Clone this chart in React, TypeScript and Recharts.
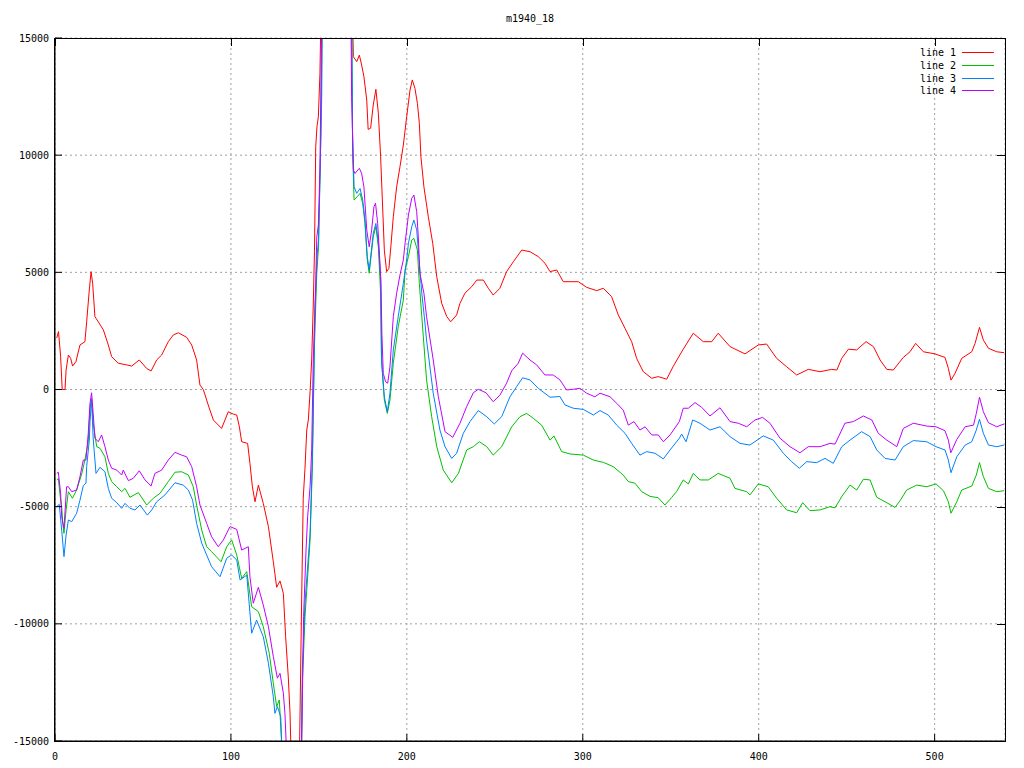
import React from 'react';
import { LineChart, Line, XAxis, YAxis, CartesianGrid, Legend } from 'recharts';

const TITLE = 'm1940_18';
const X_TICKS = [0, 100, 200, 300, 400, 500];
const Y_TICKS = [-15000, -10000, -5000, 0, 5000, 10000, 15000];
const SERIES_NAMES = ['line 1', 'line 2', 'line 3', 'line 4'];
const SERIES_COLORS = ['#ff0000', '#00c000', '#0080ff', '#c000ff'];

const line1X = [1.0, 2.0, 3.2, 4.1, 5.7, 6.3, 7.6, 8.9, 10.0, 11.9, 14.2, 17.0, 18.0, 19.5, 20.5, 21.4, 22.7, 24.6, 27.5, 30.3, 32.2, 36.0, 40.7, 43.6, 47.9, 52.1, 54.6, 57.8, 60.6, 64.4, 67.3, 70.1, 74.8, 77.7, 80.5, 82.4, 84.3, 87.1, 90.0, 94.7, 98.5, 101.4, 103.3, 104.8, 106.1, 109.5, 110.8, 112.2, 113.7, 115.6, 118.4, 121.3, 124.1, 126.0, 127.9, 129.8, 131.1, 132.6, 133.6, 135.0, 138.5, 140.2, 141.1, 142.1, 143.1, 144.0, 145.0, 145.9, 146.8, 147.5, 148.2, 148.9, 149.7, 150.6, 152.5, 167.5, 169.6, 171.5, 173.0, 174.3, 175.6, 177.2, 178.0, 179.4, 180.9, 182.4, 183.8, 185.1, 186.3, 187.2, 188.5, 189.8, 190.9, 192.3, 194.2, 196.1, 198.0, 199.9, 201.8, 203.1, 204.6, 206.0, 207.1, 208.0, 209.7, 212.2, 214.7, 217.0, 219.8, 222.7, 224.9, 228.3, 230.2, 233.0, 236.9, 239.7, 243.5, 246.3, 249.1, 252.9, 256.7, 260.5, 265.3, 270.0, 274.7, 278.5, 281.4, 285.2, 288.9, 292.7, 297.5, 302.2, 307.9, 311.7, 316.4, 320.2, 324.0, 327.8, 330.6, 334.4, 339.2, 342.9, 347.7, 351.5, 357.1, 362.8, 368.5, 373.3, 377.0, 383.7, 392.2, 399.8, 404.5, 410.2, 415.9, 421.6, 428.2, 434.9, 441.5, 444.4, 447.2, 451.0, 455.7, 461.0, 465.2, 469.0, 472.8, 476.5, 482.2, 486.0, 489.2, 493.6, 500.2, 505.9, 507.8, 509.3, 511.6, 515.4, 521.1, 523.0, 525.5, 527.7, 530.6, 535.3, 539.5];
const line1Y = [2200, 2470, 1400, 0, 0, 830, 1470, 1330, 1000, 1190, 1900, 2040, 2890, 4250, 5030, 4530, 3110, 2890, 2540, 1900, 1400, 1120, 1050, 1000, 1260, 900, 790, 1260, 1470, 2040, 2330, 2420, 2230, 1900, 1260, 190, 0, -660, -1300, -1660, -950, -1050, -1090, -1590, -2230, -2300, -3150, -4150, -4790, -4080, -4860, -5850, -7350, -8440, -8170, -8700, -10550, -12260, -13820, -18000, -18000, -8980, -4640, -3360, -1730, -1300, -90, 1260, 3600, 5900, 10360, 11210, 11640, 13490, 22000, 22000, 14200, 13990, 14270, 13850, 13350, 12350, 11100, 11150, 12140, 12810, 11790, 9930, 7660, 5950, 5030, 5170, 6090, 7370, 8650, 9510, 10430, 11640, 12780, 13210, 12850, 12210, 11360, 9930, 8650, 7370, 6240, 4810, 3680, 3110, 2890, 3180, 3680, 4110, 4390, 4670, 4670, 4320, 4030, 4320, 5030, 5450, 5950, 5880, 5670, 5390, 5030, 5100, 4600, 4600, 4600, 4360, 4220, 4320, 3960, 3180, 2610, 2040, 1330, 760, 480, 550, 440, 1000, 1720, 2400, 2040, 2040, 2400, 1830, 1520, 1900, 1940, 1330, 970, 620, 860, 760, 860, 830, 1330, 1720, 1690, 2040, 1830, 1260, 860, 830, 1370, 1610, 1970, 1610, 1520, 1370, 900, 400, 690, 1330, 1610, 1970, 2650, 2110, 1760, 1610, 1570];

const line2X = [1.0, 1.9, 3.2, 3.8, 4.4, 5.1, 6.3, 7.6, 9.9, 12.3, 15.2, 17.0, 18.9, 19.9, 20.8, 21.7, 23.7, 25.6, 28.4, 30.3, 32.2, 35.1, 37.9, 39.8, 42.6, 47.4, 52.1, 55.9, 59.7, 64.4, 68.2, 72.0, 75.8, 78.6, 80.5, 83.4, 86.2, 89.0, 94.4, 97.6, 100.4, 103.3, 106.1, 109.0, 111.8, 115.6, 118.4, 121.8, 124.1, 126.0, 127.5, 130.2, 139.9, 140.6, 142.1, 145.0, 146.3, 147.4, 148.8, 149.8, 151.2, 152.3, 168.3, 169.2, 170.0, 171.8, 173.4, 174.9, 176.2, 177.5, 178.6, 180.9, 182.4, 183.8, 185.1, 185.6, 187.2, 188.9, 190.4, 192.3, 195.1, 198.0, 199.0, 200.9, 202.8, 204.0, 206.0, 207.1, 208.5, 209.5, 211.2, 214.1, 217.0, 220.7, 225.5, 229.3, 234.0, 237.8, 241.2, 245.4, 249.1, 253.9, 259.6, 264.3, 268.1, 271.9, 276.6, 281.4, 283.6, 288.0, 292.7, 300.3, 306.0, 311.7, 317.3, 323.0, 325.9, 329.7, 333.5, 338.2, 342.9, 346.7, 350.5, 353.3, 357.1, 360.0, 362.8, 366.6, 371.4, 377.0, 383.7, 386.5, 393.2, 395.0, 399.8, 405.4, 410.2, 415.9, 421.6, 425.0, 429.1, 434.9, 440.5, 443.4, 447.2, 451.9, 455.7, 459.5, 463.3, 467.1, 471.8, 477.5, 480.4, 484.1, 489.8, 495.5, 500.8, 505.0, 507.8, 509.3, 512.6, 515.4, 521.1, 523.7, 525.5, 527.7, 530.6, 535.3, 539.5];
const line2Y = [-3860, -3800, -4720, -5000, -5710, -6140, -5140, -4360, -4640, -4290, -3600, -3010, -2230, -800, -380, -1440, -2440, -2510, -2870, -3580, -3930, -4150, -4360, -4220, -4600, -4400, -4930, -4640, -4430, -3930, -3530, -3510, -3650, -4150, -4930, -6000, -6710, -6920, -7350, -6710, -6420, -7060, -8060, -7770, -9270, -9480, -10120, -11260, -12540, -13530, -13250, -17000, -17000, -12540, -9700, -6420, -3290, 1690, 5000, 6090, 11070, 20000, 20000, 10110, 8090, 8230, 8370, 7950, 7090, 5530, 4960, 6520, 6950, 6090, 4110, 1260, -450, -1020, -450, 1120, 2680, 3820, 5100, 5670, 6380, 6450, 5950, 4530, 3110, 2110, 410, -1160, -2440, -3440, -3980, -3580, -2580, -2440, -2230, -2440, -2800, -2440, -1590, -1160, -1020, -1230, -1520, -2160, -1980, -2650, -2750, -2800, -3010, -3110, -3290, -3650, -3930, -4000, -4360, -4560, -4620, -4930, -4610, -4360, -3860, -4030, -3580, -3860, -3860, -3580, -3790, -4220, -4360, -4500, -4030, -4150, -4640, -5140, -5260, -4830, -5170, -5140, -5000, -5050, -4570, -4080, -4290, -3830, -3860, -4600, -4790, -5030, -4740, -4290, -4080, -4150, -4030, -4320, -4790, -5280, -4790, -4290, -4120, -3650, -3120, -3720, -4220, -4360, -4320];

const line3X = [1.0, 2.4, 3.8, 5.1, 6.3, 7.6, 9.5, 12.3, 14.2, 16.1, 17.6, 18.0, 19.5, 19.9, 20.8, 21.7, 23.3, 25.6, 28.4, 30.3, 32.2, 35.1, 37.9, 39.8, 42.6, 45.5, 48.3, 52.5, 55.0, 57.8, 62.5, 68.2, 72.9, 75.8, 78.2, 80.5, 83.4, 86.2, 89.0, 93.8, 97.6, 100.4, 103.3, 105.2, 109.0, 111.8, 114.6, 118.4, 121.3, 124.1, 125.0, 126.4, 128.3, 129.8, 139.8, 140.6, 142.1, 145.0, 146.3, 146.8, 147.8, 149.1, 149.8, 151.6, 152.4, 168.2, 169.1, 170.0, 171.5, 173.4, 174.9, 176.2, 177.5, 178.6, 180.9, 182.4, 183.8, 185.1, 185.6, 187.2, 188.9, 190.4, 192.3, 195.1, 198.0, 199.9, 200.9, 202.8, 204.0, 205.6, 207.1, 208.5, 210.3, 211.2, 215.0, 218.8, 221.7, 225.5, 228.3, 232.1, 235.9, 240.6, 245.4, 249.7, 253.9, 258.6, 262.4, 265.8, 270.0, 274.7, 281.4, 287.0, 289.9, 294.6, 300.3, 306.0, 309.8, 314.5, 319.3, 324.0, 327.8, 332.5, 336.3, 341.0, 345.8, 349.6, 354.9, 356.2, 358.7, 362.5, 366.6, 372.3, 378.0, 383.7, 389.4, 395.0, 402.6, 408.3, 414.0, 418.7, 423.1, 427.3, 433.0, 437.7, 442.4, 447.2, 451.9, 458.5, 463.3, 467.1, 471.8, 477.5, 482.2, 487.9, 495.5, 500.8, 505.9, 507.8, 509.3, 512.6, 517.4, 521.1, 523.7, 525.5, 527.7, 530.6, 535.3, 539.5];
const line3Y = [-5000, -4900, -6000, -7130, -6210, -5570, -5640, -5280, -4720, -4100, -4000, -3290, -2160, -1370, -450, -2080, -3580, -3320, -3510, -4220, -4640, -4830, -5070, -4860, -5070, -5140, -4930, -5360, -5140, -4790, -4500, -3980, -4080, -4290, -4720, -5710, -6560, -7060, -7560, -7990, -7200, -7060, -7280, -8130, -7920, -10400, -9840, -10550, -11680, -13110, -13820, -13530, -13960, -17000, -17000, -11980, -9120, -6140, -2870, -880, 3530, 5810, 6380, 12490, 20000, 20000, 11070, 8650, 8370, 8580, 8090, 7230, 5670, 5100, 6670, 7090, 6240, 4810, 1260, -310, -950, -160, 1690, 3110, 4530, 5530, 6240, 6950, 7230, 6810, 5390, 4110, 2830, 2110, -160, -1730, -2440, -2940, -2720, -1870, -1370, -900, -1160, -1470, -1160, -310, 120, 500, 410, 50, -330, -300, -660, -800, -850, -1090, -900, -1090, -1520, -1870, -2300, -2800, -2650, -2720, -2960, -2580, -2080, -1900, -2230, -1300, -1440, -1730, -1590, -2010, -2300, -2370, -1980, -2160, -2720, -3080, -3360, -3080, -3120, -2940, -3150, -2440, -2160, -1800, -2010, -2580, -2940, -3010, -2440, -2180, -2230, -2440, -2580, -3010, -3550, -2870, -2370, -2230, -1730, -1270, -1870, -2370, -2440, -2370];

const line4X = [1.0, 1.9, 3.2, 3.8, 5.1, 6.6, 7.6, 9.5, 12.3, 14.2, 16.1, 17.6, 18.9, 19.9, 20.8, 21.7, 22.7, 24.6, 26.5, 28.4, 30.3, 32.2, 35.1, 37.9, 38.8, 41.7, 44.5, 47.9, 51.2, 54.6, 56.8, 60.6, 64.4, 68.2, 72.0, 74.8, 77.7, 80.5, 82.4, 86.2, 89.0, 92.8, 95.7, 99.5, 103.3, 106.1, 109.9, 110.8, 112.7, 115.6, 118.4, 121.3, 124.1, 126.4, 127.9, 129.8, 130.7, 132.5, 139.8, 140.6, 141.3, 142.7, 143.6, 145.0, 145.9, 146.8, 148.2, 148.8, 149.7, 150.6, 152.2, 167.8, 168.6, 169.6, 170.5, 173.0, 174.3, 175.6, 177.2, 178.6, 180.0, 181.3, 182.2, 183.4, 184.3, 185.3, 185.8, 186.6, 187.9, 189.1, 190.4, 192.3, 194.2, 196.1, 198.0, 199.0, 200.9, 202.8, 204.0, 205.6, 206.5, 207.4, 209.7, 211.2, 215.0, 217.9, 221.7, 226.1, 230.2, 234.0, 237.8, 240.6, 245.0, 249.1, 252.9, 256.7, 259.6, 263.3, 265.8, 270.0, 273.8, 278.5, 283.2, 287.0, 290.8, 294.6, 298.4, 302.2, 306.9, 309.8, 315.5, 319.3, 323.0, 325.9, 329.1, 332.5, 335.4, 339.2, 342.9, 345.8, 349.6, 354.9, 357.1, 360.0, 363.8, 367.6, 372.3, 378.0, 383.7, 388.4, 393.2, 397.9, 402.2, 406.4, 412.1, 417.8, 423.5, 428.2, 434.9, 440.5, 443.4, 449.0, 453.8, 459.5, 464.3, 468.0, 472.8, 478.5, 482.2, 487.9, 495.5, 500.8, 505.9, 507.8, 509.2, 512.6, 517.4, 522.1, 523.7, 525.5, 527.7, 530.6, 535.3, 539.5];
const line4Y = [-3580, -3530, -4430, -5430, -5920, -4150, -4150, -4360, -4290, -3720, -3010, -3010, -1870, -590, -140, -1020, -2080, -2230, -1940, -2440, -3010, -3360, -3440, -3650, -3440, -3890, -3790, -3470, -3860, -4120, -3580, -3440, -3010, -2680, -2800, -2870, -3290, -4150, -4930, -5710, -6280, -6710, -6420, -5850, -5970, -6850, -6710, -7990, -9120, -8440, -9200, -10120, -11400, -12320, -12110, -12960, -13820, -17000, -17000, -13260, -9700, -6850, -5430, -4150, -2580, 1260, 4530, 6500, 7020, 9370, 20000, 20000, 12490, 9370, 9220, 9440, 9220, 8650, 6810, 6090, 6810, 7800, 7950, 7090, 5950, 4530, 2400, 690, 330, 270, 970, 3110, 4110, 4890, 5530, 6240, 7450, 8160, 8300, 7590, 6520, 4960, 4110, 3110, 1260, -310, -1800, -2040, -1440, -730, -140, 10, -140, -520, -240, 270, 800, 1120, 1550, 1260, 1050, 620, 620, 410, -20, 10, 50, -160, -310, -160, -310, -590, -880, -1520, -1370, -1730, -1590, -1940, -1940, -2230, -1940, -1370, -800, -800, -560, -760, -1130, -780, -1370, -1440, -1590, -1300, -1190, -1440, -2080, -2440, -2700, -2440, -2440, -2300, -2330, -1440, -1370, -1130, -1300, -1870, -2160, -2440, -1660, -1440, -1560, -1590, -1760, -2160, -2700, -2130, -1590, -1520, -1020, -330, -950, -1420, -1590, -1470];

const toPoints = (xs: number[], ys: number[]) => xs.map((x, i) => ({ x, y: ys[i] }));
const SERIES_DATA = [
  toPoints(line1X, line1Y),
  toPoints(line2X, line2Y),
  toPoints(line3X, line3Y),
  toPoints(line4X, line4Y),
];
const X_DOMAIN: [number, number] = [0, 540];
const Y_DOMAIN: [number, number] = [-15000, 15000];

// plot frame (pixels inside the 1024x768 chart)
const PLOT_LEFT = 55;
const PLOT_TOP = 38;
const PLOT_W = 950;
const PLOT_H = 703;

const FONT = '"DejaVu Sans Mono", "Liberation Mono", monospace';
const tickStyle = { fill: '#000', fontSize: 10, fontFamily: FONT };

const renderLegend = () => (
  <div style={{ position: 'relative', width: 130, height: 60, fontFamily: FONT, fontSize: 10, color: '#000' }}>
    {SERIES_NAMES.map((name, i) => (
      <div key={name} style={{ position: 'absolute', left: 0, top: i * 12.8, width: 130, height: 13 }}>
        <span style={{ position: 'absolute', right: 54, top: 0, lineHeight: '13px', whiteSpace: 'pre' }}>{name}</span>
        <div style={{ position: 'absolute', left: 82, top: 6, width: 32, height: 1, background: SERIES_COLORS[i] }} />
      </div>
    ))}
  </div>
);

function Frame() {
  const xPos = (v: number) => PLOT_LEFT + ((v - X_DOMAIN[0]) / (X_DOMAIN[1] - X_DOMAIN[0])) * PLOT_W;
  const yPos = (v: number) => PLOT_TOP + ((Y_DOMAIN[1] - v) / (Y_DOMAIN[1] - Y_DOMAIN[0])) * PLOT_H;
  return (
    <div style={{ position: 'absolute', left: 0, top: 0, width: 1024, height: 768, pointerEvents: 'none' }}>
      <div
        style={{
          position: 'absolute',
          left: PLOT_LEFT - 1,
          top: PLOT_TOP,
          width: PLOT_W + 2,
          height: PLOT_H + 1,
          border: '1px solid #000',
          boxSizing: 'border-box',
        }}
      />
      {X_TICKS.map((t) => (
        <div key={'xt' + t} style={{ position: 'absolute', left: Math.round(xPos(t)), top: PLOT_TOP, width: 1, height: 8, background: '#000' }} />
      ))}
      {Y_TICKS.map((t) => (
        <div key={'yt' + t} style={{ position: 'absolute', left: PLOT_LEFT + PLOT_W - 8, top: Math.round(yPos(t)), width: 8, height: 1, background: '#000' }} />
      ))}
    </div>
  );
}

export default function App() {
  return (
    <div style={{ position: 'absolute', left: 0, top: 0, width: 1024, height: 768, background: '#fff', fontFamily: FONT }}>
      <div style={{ position: 'absolute', left: 430, width: 200, top: 13, textAlign: 'center', fontSize: 10, lineHeight: '12px', color: '#000' }}>
        {TITLE}
      </div>
      <LineChart width={1024} height={768} margin={{ top: PLOT_TOP, right: 1024 - PLOT_LEFT - PLOT_W, bottom: 0, left: 0 }}>
        <CartesianGrid stroke="#a0a0a0" strokeDasharray="2 3" />
        <XAxis
          dataKey="x"
          type="number"
          domain={X_DOMAIN}
          ticks={X_TICKS}
          allowDataOverflow
          height={768 - PLOT_TOP - PLOT_H}
          stroke="#000"
          tickSize={-7}
          tickMargin={19}
          tick={tickStyle}
          interval={0}
        />
        <YAxis
          type="number"
          domain={Y_DOMAIN}
          ticks={Y_TICKS}
          allowDataOverflow
          width={PLOT_LEFT}
          stroke="#000"
          tickSize={-7}
          tickMargin={13}
          tick={tickStyle}
          interval={0}
        />
        <Legend
          layout="vertical"
          align="center"
          verticalAlign="middle"
          content={renderLegend}
          wrapperStyle={{ left: 880, top: 46, width: 130, height: 60 }}
        />
        {SERIES_DATA.map((d, i) => (
          <Line
            key={SERIES_NAMES[i]}
            name={SERIES_NAMES[i]}
            data={d}
            dataKey="y"
            type="linear"
            stroke={SERIES_COLORS[i]}
            strokeWidth={1}
            dot={false}
            activeDot={false}
            isAnimationActive={false}
          />
        ))}
      </LineChart>
      <Frame />
    </div>
  );
}
